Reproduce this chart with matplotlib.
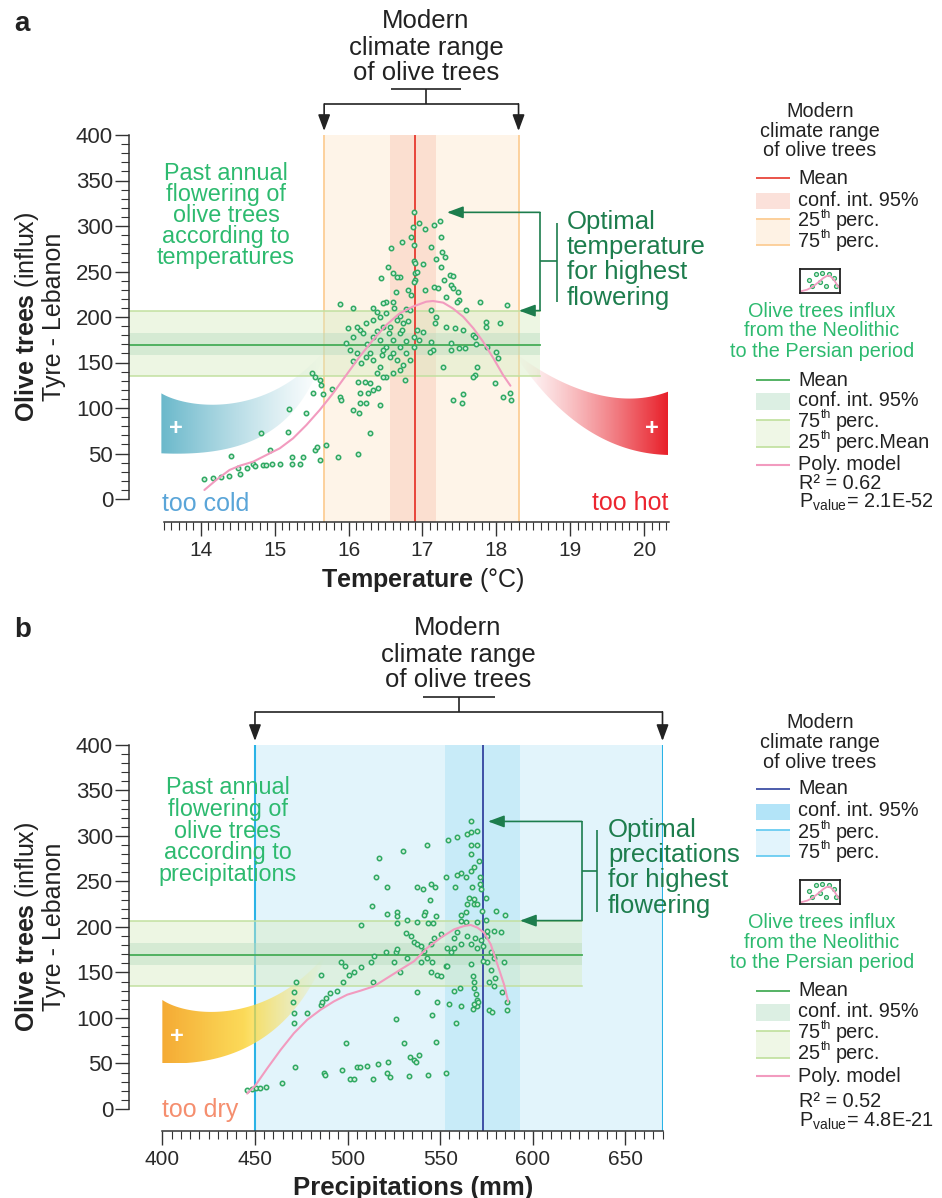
import numpy as np
import matplotlib
matplotlib.use("Agg")
import matplotlib.pyplot as plt
from matplotlib.path import Path
from matplotlib.patches import PathPatch, Rectangle, FancyArrowPatch
from matplotlib.lines import Line2D

plt.rcParams['font.family'] = ['Liberation Sans', 'DejaVu Sans']
plt.rcParams['mathtext.fontset'] = 'custom'
plt.rcParams['mathtext.rm'] = 'Liberation Sans'
plt.rcParams['mathtext.it'] = 'Liberation Sans:italic'
plt.rcParams['mathtext.bf'] = 'Liberation Sans:bold'

# ---------------- data: panel a (temperature) ----------------
temp_x = [14.05, 14.16, 14.27, 14.38, 14.41, 14.51, 14.53, 14.62, 14.71, 14.73, 14.84, 14.89, 14.96, 15.07, 14.94,
          14.81, 15.23, 15.23, 15.34, 15.38, 15.54, 15.57, 15.61, 15.70, 15.86, 16.13, 15.18, 15.20, 15.42, 16.29,
          15.51, 15.54, 15.61, 15.63, 15.66, 15.52, 15.77, 15.88, 15.90, 15.89, 15.99, 16.06, 16.14, 16.15, 16.24,
          16.42, 16.06, 16.13, 16.22, 16.29, 16.33, 16.40, 16.15, 16.26,
          16.88, 16.95, 17.04, 17.15, 17.24, 16.87, 16.84, 16.72, 16.88, 16.58, 17.11, 17.25, 17.18, 17.26, 17.30,
          16.88, 16.90, 17.01, 16.53, 16.60, 16.69, 16.65, 16.90, 16.93, 17.25, 16.44, 17.37, 17.41, 17.29, 16.90,
          16.88, 17.15, 17.21, 17.39, 17.41, 17.04, 16.64, 16.81, 16.85, 17.32, 17.48, 17.50, 17.47, 17.78, 18.14,
          16.51, 16.47, 16.60, 16.78, 16.83, 17.12, 17.59, 17.86, 18.05, 17.86, 17.19, 17.17, 17.32, 17.44, 17.55,
          17.68, 17.71, 17.01, 17.12, 17.14, 17.10, 17.39, 17.39, 17.50, 17.57, 17.73, 17.87, 18.00, 18.02, 17.74,
          17.71, 17.69, 17.28, 17.98, 18.09, 18.18, 18.20, 17.41, 17.55, 17.54,
          16.88, 16.88, 16.69, 16.78, 16.60, 16.65, 16.74, 16.69, 16.76, 16.60, 16.51, 16.42, 16.33, 16.29, 16.24,
          16.11, 16.02, 15.97, 16.06, 16.15, 16.24, 16.33, 16.42, 16.51, 16.11, 16.20, 16.33, 16.42, 16.51, 16.60,
          16.69, 16.78, 16.83, 16.47, 16.56, 16.65, 16.74, 16.33, 16.38, 16.47, 16.56, 16.17, 16.06, 16.38, 16.47,
          16.55, 16.72, 16.38, 16.80, 16.62, 16.25, 16.45, 16.70, 16.92, 16.95]
temp_influx = [22, 23, 24, 25, 47, 34, 28, 34, 39, 36, 37, 37, 39, 39, 54,
               73, 46, 39, 39, 46, 54, 57, 43, 59, 46, 50, 74, 99, 94, 73,
               139, 134, 131, 125, 115, 117, 121, 112, 109, 214, 188, 210, 95, 105, 105,
               103, 98, 129, 129, 127, 120, 122, 116, 116,
               315, 303, 297, 301, 305, 299, 288, 282, 279, 276, 277, 288, 264, 271, 266,
               261, 259, 258, 255, 248, 244, 244, 248, 250, 255, 243, 246, 245, 241, 241,
               239, 233, 232, 235, 232, 230, 228, 230, 224, 222, 228, 219, 216, 217, 213,
               217, 215, 216, 209, 208, 208, 208, 195, 193, 189, 200, 193, 189, 188, 186,
               180, 178, 183, 172, 164, 162, 171, 164, 166, 166, 170, 167, 162, 155, 145,
               136, 134, 145, 127, 112, 117, 109, 109, 115, 106,
               167, 178, 182, 174, 160, 153, 147, 142, 131, 138, 134, 145, 153, 160, 156,
               160, 164, 171, 178, 186, 193, 197, 200, 204, 189, 182, 178, 175, 167, 175,
               167, 160, 153, 189, 189, 197, 193, 210, 205, 164, 156, 149, 152, 138, 134,
               182, 186, 185, 196, 210, 170, 158, 201, 186, 175]
temp_model_x = [14.05, 14.21, 14.39, 14.53, 14.71, 14.89, 15.07, 15.25, 15.43, 15.61, 15.79, 15.97, 16.15, 16.33,
                16.51, 16.69, 16.87, 17.05, 17.14, 17.28, 17.41, 17.55, 17.69, 17.82, 17.96, 18.09, 18.19]
temp_model_y = [9.9, 20.9, 31.9, 36.6, 41.0, 48.4, 55.7, 66.7, 81.3, 97.8, 116.1, 136.3, 156.4, 174.7,
                191.2, 204.0, 211.4, 216.8, 217.6, 215.8, 209.5, 200.4, 187.5, 172.9, 154.6, 136.3, 124.5]
temp_p25, temp_p75 = 15.67, 18.30
temp_ci_low, temp_ci_high = 16.56, 17.19
temp_mean = 16.90
temp_ticks = [14, 15, 16, 17, 18, 19, 20]
temp_r2 = 'R² = 0.62'
temp_p = 'P$_{\\rm value}$= 2.1E-52'

# ---------------- data: panel b (precipitation) ----------------
prec_x = [445.8, 448.5, 450.3, 452.6, 456.2, 464.7, 471.4, 487.2, 487.7, 496.8, 498.9, 501.3, 503.4, 505.2, 506.7,
          510.6, 513.7, 516.4, 521.4, 521.8, 522.9, 530.5, 533.3, 533.7, 535.9, 536.9, 538.7, 543.4, 547.7, 553.2,
          525.9, 545.6, 558.6, 548.1, 554.8, 561.1, 537.3, 557.5, 560.7, 567.7, 570.1, 576.4, 578.2, 586.3, 586.3,
          583.2,
          471.0, 471.0, 470.6, 471.0, 472.3, 478.2, 485.6, 486.3, 488.1, 490.3, 494.4, 497.5, 485.6, 496.2, 498.4,
          500.7, 503.4, 507.0, 512.4, 514.2, 520.5, 525.9, 526.8, 532.3, 528.1, 513.9, 507.0,
          566.8, 564.7, 566.5, 569.7, 559.3, 554.2, 543.1, 529.9, 516.9, 566.8, 570.1, 566.8, 571.0, 568.3, 566.5,
          561.1, 559.3, 563.8, 571.5, 553.0, 515.1, 521.1, 537.7, 540.9, 545.2, 547.0, 558.2, 571.5, 571.9, 567.4,
          565.6, 568.3, 574.6, 568.3, 570.1, 572.8, 563.8, 564.7, 544.5, 541.6, 541.3, 513.0, 521.4, 526.8, 526.5,
          526.8, 532.3, 537.7, 547.6, 543.4, 546.3, 580.0, 585.0, 561.4, 561.1, 563.8, 570.1, 574.6, 575.1, 579.1,
          582.7, 564.7, 568.8, 571.9, 575.5, 559.3, 557.5, 561.1, 566.5, 570.1, 573.3, 577.3, 579.1, 584.5, 575.5,
          573.3, 566.5, 577.3, 579.6, 579.1, 576.4, 567.9, 568.3, 568.3, 569.2, 570.1, 568.3, 570.6, 531.4, 534.1,
          535.9, 537.7, 539.5, 541.3, 544.9, 546.7, 550.3, 553.9, 555.7, 557.5, 543.1, 545.8, 539.5, 544.9, 548.5,
          550.3, 553.0, 553.9, 525.0]
prec_influx = [21, 22, 23, 23, 24, 28, 46, 39, 37, 43, 72, 33, 33, 46, 46,
               47, 33, 49, 39, 52, 35, 73, 36, 57, 54, 52, 59, 37, 74, 39,
               99, 103, 94, 118, 115, 113, 129, 130, 133, 110, 113, 109, 107, 118, 109,
               128,
               94, 106, 118, 129, 140, 105, 114, 118, 122, 127, 130, 140, 147, 161, 157,
               147, 150, 156, 162, 168, 172, 173, 176, 166, 151, 139, 202,
               316, 302, 304, 306, 299, 296, 290, 283, 276, 290, 290, 280, 273, 266, 262,
               259, 257, 255, 255, 255, 255, 244, 244, 242, 247, 244, 244, 247, 242, 244,
               232, 231, 232, 225, 225, 218, 216, 225, 230, 217, 213, 223, 214, 217, 212,
               204, 208, 205, 212, 204, 204, 218, 213, 213, 207, 205, 205, 208, 196, 196,
               194, 190, 188, 186, 190, 194, 188, 181, 181, 177, 179, 173, 166, 162, 162,
               163, 159, 153, 144, 135, 139, 146, 140, 133, 126, 120, 115, 118, 193, 190,
               184, 181, 179, 174, 181, 188, 192, 177, 173, 177, 166, 162, 162, 151, 147,
               146, 157, 157, 161]
prec_model_x = [445.8, 450.3, 456.6, 463.8, 471.0, 478.2, 485.4, 492.6, 499.8, 507.0, 514.2, 521.4, 528.6,
                535.9, 543.1, 550.3, 557.5, 562.9, 566.5, 570.1, 573.7, 577.3, 580.9, 584.5, 586.7]
prec_model_y = [16.9, 26.2, 44.6, 64.8, 83.2, 98.0, 109.0, 118.2, 125.6, 130.0, 134.8, 144.0, 153.2,
                162.4, 177.2, 188.2, 197.4, 201.1, 202.2, 199.3, 193.7, 180.8, 158.7, 136.6, 118.2]
prec_p25, prec_p75 = 450, 670
prec_ci_low, prec_ci_high = 552.5, 593
prec_mean = 573
prec_ticks = [400, 450, 500, 550, 600, 650]
prec_r2 = 'R² = 0.52'
prec_p = 'P$_{\\rm value}$= 4.8E-21'

# olive influx (Neolithic to Persian) statistics
influx_mean = 169
influx_ci_low, influx_ci_high = 158, 182
influx_p25, influx_p75 = 135, 207
influx_ticks = [0, 50, 100, 150, 200, 250, 300, 350, 400]

# legend icon
icon_x = [0.22, 0.40, 0.55, 0.72, 0.30, 0.50, 0.64, 0.84, 0.90]
icon_y = [0.55, 0.80, 0.82, 0.80, 0.30, 0.45, 0.30, 0.62, 0.28]
icon_cx = [0.04, 0.18, 0.32, 0.46, 0.58, 0.68, 0.76, 0.86, 0.96]
icon_cy = [0.08, 0.14, 0.26, 0.45, 0.62, 0.72, 0.70, 0.52, 0.25]

# ---------------- figure helpers ----------------
W, H = 942, 1198
fig = plt.figure(figsize=(W / 100, H / 100), dpi=100)
fig.patch.set_facecolor('white')
REN = fig.canvas.get_renderer()


def X(x):
    return x / W


def Y(y):
    return 1 - y / H


def ftext(x, y, s, **kw):
    kw.setdefault('ha', 'center')
    kw.setdefault('va', 'center')
    return fig.text(X(x), Y(y), s, **kw)


def sup_text(x, y, base, sup, rest, size, color):
    t1 = ftext(x, y, base, fontsize=size, color=color, ha='left')
    w1 = t1.get_window_extent(REN).width
    t2 = ftext(x + w1 + 0.5, y - size * 0.42, sup, fontsize=size * 0.62, color=color, ha='left')
    w2 = t2.get_window_extent(REN).width
    ftext(x + w1 + 0.5 + w2 + size * 0.36, y, rest, fontsize=size, color=color, ha='left')


def fline(xs, ys, color, lw=1.2, z=5):
    fig.add_artist(Line2D([X(v) for v in xs], [Y(v) for v in ys], color=color, lw=lw,
                          transform=fig.transFigure, zorder=z, solid_capstyle='butt'))


def frect(x0, y0, x1, y1, color):
    fig.add_artist(Rectangle((X(x0), Y(y1)), (x1 - x0) / W, (y1 - y0) / H, facecolor=color,
                             edgecolor='none', transform=fig.transFigure, zorder=4))


def farrow(x0, y0, x1, y1, color, lw=1.2):
    fig.add_artist(FancyArrowPatch((X(x0), Y(y0)), (X(x1), Y(y1)), transform=fig.transFigure,
                                   arrowstyle='-|>,head_length=0.7,head_width=0.26', mutation_scale=14,
                                   color=color, lw=lw, shrinkA=0, shrinkB=0, zorder=6))


def to_px(ax, x, y):
    dx, dy = ax.transData.transform((x, y))
    return dx, H - dy


def make_axes(top, bottom, left, right, xlim, ylim, xbound, xmajor, xminor):
    ax = fig.add_axes([X(left), Y(bottom), (right - left) / W, (bottom - top) / H])
    ax.set_xlim(*xlim)
    ax.set_ylim(*ylim)
    ax.patch.set_visible(False)
    for s in ('top', 'right'):
        ax.spines[s].set_visible(False)
    for s in ('left', 'bottom'):
        ax.spines[s].set_color('#333333')
        ax.spines[s].set_linewidth(1.1)
    ax.spines['left'].set_bounds(0, 400)
    ax.spines['bottom'].set_bounds(*xbound)
    ax.set_yticks(influx_ticks)
    ax.set_yticks(np.arange(0, 401, 10), minor=True)
    ax.set_xticks(xmajor)
    ax.set_xticks(xminor, minor=True)
    ax.tick_params(which='major', direction='out', length=10, width=1.0, color='#333333',
                   labelcolor='#2a2a2a')
    ax.tick_params(which='minor', direction='out', length=6, width=0.8, color='#333333')
    ax.tick_params(axis='x', pad=4, labelsize=15)
    ax.tick_params(axis='y', pad=1.5, labelsize=16)
    return ax


def bez(p0, c1, c2, p3, n=60):
    t = np.linspace(0, 1, n)[:, None]
    p0, c1, c2, p3 = map(np.array, (p0, c1, c2, p3))
    return (1 - t) ** 3 * p0 + 3 * (1 - t) ** 2 * t * c1 + 3 * (1 - t) * t ** 2 * c2 + t ** 3 * p3


def horn(ax, top, bottom, rgba_fn, z=0.9):
    tp = bez(*top)
    bt = bez(*bottom)
    verts = np.vstack([tp, bt[::-1], tp[:1]])
    codes = [Path.MOVETO] + [Path.LINETO] * (len(verts) - 2) + [Path.CLOSEPOLY]
    patch = PathPatch(Path(verts, codes), facecolor='none', edgecolor='none')
    ax.add_patch(patch)
    x0, x1 = verts[:, 0].min(), verts[:, 0].max()
    y0, y1 = verts[:, 1].min(), verts[:, 1].max()
    s = np.linspace(0, 1, 400)
    img = np.repeat(rgba_fn(s)[None, :, :], 2, axis=0)
    im = ax.imshow(img, extent=(x0, x1, y0, y1), origin='lower', aspect='auto',
                   interpolation='bilinear', zorder=z)
    im.set_clip_path(patch)


def cold_rgba(s):
    a = 0.82 * (1 - s) ** 1.2
    return np.stack([np.full_like(s, 0.29), np.full_like(s, 0.66), np.full_like(s, 0.75), a], axis=1)


def hot_rgba(s):
    a = s ** 1.3
    return np.stack([np.full_like(s, 0.91), np.full_like(s, 0.12), np.full_like(s, 0.16), a], axis=1)


def dry_rgba(s):
    r = np.interp(s, [0, 0.55, 1], [0.96, 0.99, 0.99])
    g = np.interp(s, [0, 0.55, 1], [0.65, 0.85, 0.88])
    b = np.interp(s, [0, 0.55, 1], [0.16, 0.24, 0.30])
    a = np.interp(s, [0, 0.5, 1], [0.95, 0.85, 0.0])
    return np.stack([r, g, b, a], axis=1)


def draw_panel(ax, p25, p75, cil, cih, mean, band_c, ci_c, edge_c, edge_lw, mean_c, gx1, xs, ys, mx, my):
    ax.axvspan(p25, p75, color=band_c, lw=0, zorder=0.5)
    ax.axvspan(cil, cih, color=ci_c, lw=0, zorder=0.6)
    for v in (p25, p75):
        ax.axvline(v, color=edge_c, lw=edge_lw, zorder=0.7)
    gx0 = ax.get_xlim()[0]
    ax.fill_between([gx0, gx1], influx_p25, influx_p75, color='#d8ecc2', alpha=0.45, lw=0, zorder=1)
    ax.fill_between([gx0, gx1], influx_ci_low, influx_ci_high, color='#b3d9bd', alpha=0.4, lw=0, zorder=1.1)
    for v in (influx_p25, influx_p75):
        ax.plot([gx0, gx1], [v, v], color='#c2e0a0', lw=1.1, zorder=1.2)
    ax.plot([gx0, gx1], [influx_mean, influx_mean], color='#46ad58', lw=1.3, zorder=2.2)
    ax.axvline(mean, color=mean_c, lw=1.4, zorder=2.1)
    ax.scatter(xs, ys, s=10, marker='o', facecolor='#d6f0df', edgecolor='#2fa862', linewidths=1.1, zorder=3)
    ax.plot(mx, my, color='#f29bbf', lw=1.5, zorder=4, solid_capstyle='round')


# ---------------- panel a ----------------
axa = make_axes(135, 521.75, 129, 668.6, (13.03, 20.33), (-25, 400), (13.5, 20.33), temp_ticks,
                np.arange(13.5, 20.31, 0.1))
draw_panel(axa, temp_p25, temp_p75, temp_ci_low, temp_ci_high, temp_mean,
           '#fef4e8', '#fbdfd0', '#fcca8e', 1.2, '#e8453a', 18.59,
           temp_x, temp_influx, temp_model_x, temp_model_y)
horn(axa, ((13.468, 116.1), (13.806, 99.6), (14.889, 86.8), (15.678, 163.7)),
     ((13.468, 50.2), (14.528, 46.5), (15.340, 68.5), (15.678, 163.7)), cold_rgba)
horn(axa, ((18.227, 161.9), (18.903, 119.8), (19.669, 97.8), (20.322, 117.9)),
     ((18.227, 161.9), (18.678, 105.1), (19.354, 50.2), (20.322, 48.4)), hot_rgba)
axa.text(13.66, 78, '+', color='white', fontsize=17, fontweight='bold', ha='center', va='center', zorder=1.6)
axa.text(20.10, 78, '+', color='white', fontsize=17, fontweight='bold', ha='center', va='center', zorder=1.6)
axa.set_xlim(13.03, 20.33)
axa.set_ylim(-25, 400)

# ---------------- panel b ----------------
axb = make_axes(745, 1130.8, 129, 662.5, (382, 670), (-24, 400), (400, 670), prec_ticks,
                np.arange(400, 671, 5))
draw_panel(axb, prec_p25, prec_p75, prec_ci_low, prec_ci_high, prec_mean,
           '#e2f4fb', '#c8ebf8', '#2ab3e6', 1.5, '#3e4fa5', 626.4,
           prec_x, prec_influx, prec_model_x, prec_model_y)
horn(axb, ((400, 119.8), (413.1, 101.4), (456.3, 90.4), (488.7, 171.1)),
     ((400, 50.2), (441.9, 46.5), (472.5, 86.8), (488.7, 171.1)), dry_rgba)
axb.text(408, 79.5, '+', color='white', fontsize=17, fontweight='bold', ha='center', va='center', zorder=1.6)
axb.set_xlim(382, 670)
axb.set_ylim(-24, 400)

# ---------------- texts & annotations, panel a ----------------
DARK = '#222222'
GREEN = '#2dba6f'
DGREEN = '#1d7d4d'
HEAD = 18.5
GTXT = 16.8
OPT = 18.5
SIDE = 18

ftext(14, 24, 'a', fontsize=20, fontweight='bold', ha='left', color=DARK)
for s, y in zip(['Modern', 'climate range', 'of olive trees'], [21, 47.5, 72.5]):
    ftext(426, y, s, fontsize=HEAD, color=DARK)
xa25, _ = to_px(axa, temp_p25, 400)
xa75, _ = to_px(axa, temp_p75, 400)
fline([391, 461], [89, 89], DARK)
fline([426, 426], [89, 104], DARK)
fline([xa25, xa75], [104, 104], DARK)
farrow(xa25, 104, xa25, 131, DARK)
farrow(xa75, 104, xa75, 131, DARK)

for s, y in zip(['Past annual', 'flowering of', 'olive trees', 'according to', 'temperatures'],
                [173, 194, 215.5, 236.5, 257.5]):
    ftext(226, y, s, fontsize=GTXT, color=GREEN)
for s, y in zip(['Optimal', 'temperature', 'for highest', 'flowering'], [221.7, 246.7, 271.7, 297.5]):
    ftext(567, y, s, fontsize=OPT, color=DGREEN, ha='left')
_, ya_top = to_px(axa, temp_mean, max(temp_influx))
_, ya_bot = to_px(axa, temp_mean, influx_p75)
fline([540, 540], [ya_top, ya_bot], DGREEN)
farrow(540, ya_top, 447, ya_top, DGREEN)
farrow(540, ya_bot, 519, ya_bot, DGREEN)
fline([540, 557], [(ya_top + ya_bot) / 2] * 2, DGREEN)
fline([557, 557], [222.7, 301.7], DGREEN)

ftext(162, 504, 'too cold', fontsize=SIDE, color='#5aa5d8', ha='left')
ftext(668, 503, 'too hot', fontsize=SIDE, color='#ec2630', ha='right')
ftext(423, 580, '$\\mathbf{Temperature}$ (°C)', fontsize=18, color=DARK)
ftext(27, 317, '$\\mathbf{Olive\\ trees}$ (influx)', fontsize=18, color=DARK, rotation=90)
ftext(54, 317, 'Tyre - Lebanon', fontsize=18, color=DARK, rotation=90)

# ---------------- texts & annotations, panel b ----------------
ftext(14, 630, 'b', fontsize=20, fontweight='bold', ha='left', color=DARK)
for s, y in zip(['Modern', 'climate range', 'of olive trees'], [628, 655, 680]):
    ftext(458, y, s, fontsize=HEAD, color=DARK)
xb25, _ = to_px(axb, prec_p25, 400)
xb75, _ = to_px(axb, prec_p75, 400)
fline([423, 495], [697, 697], DARK)
fline([459, 459], [697, 712], DARK)
fline([xb25, xb75], [712, 712], DARK)
farrow(xb25, 712, xb25, 741, DARK)
farrow(xb75, 712, xb75, 741, DARK)

for s, y in zip(['Past annual', 'flowering of', 'olive trees', 'according to', 'precipitations'],
                [788, 809.5, 831, 852.5, 874]):
    ftext(227.5, y, s, fontsize=GTXT, color=GREEN)
for s, y in zip(['Optimal', 'precitations', 'for highest', 'flowering'], [830, 855, 880, 906]):
    ftext(608, y, s, fontsize=OPT, color=DGREEN, ha='left')
_, yb_top = to_px(axb, prec_mean, max(prec_influx))
_, yb_bot = to_px(axb, prec_mean, influx_p75)
fline([581.7, 581.7], [yb_top, yb_bot], DGREEN)
farrow(581.7, yb_top, 488, yb_top, DGREEN)
farrow(581.7, yb_bot, 520, yb_bot, DGREEN)
fline([581.7, 596.7], [(yb_top + yb_bot) / 2] * 2, DGREEN)
fline([596.7, 596.7], [830, 911.7], DGREEN)

ftext(162, 1110, 'too dry', fontsize=SIDE, color='#f58e6e', ha='left')
ftext(413, 1188, 'Precipitations (mm)', fontsize=18.5, fontweight='bold', color=DARK)
ftext(27, 927, '$\\mathbf{Olive\\ trees}$ (influx)', fontsize=18, color=DARK, rotation=90)
ftext(54, 927, 'Tyre - Lebanon', fontsize=18, color=DARK, rotation=90)


# ---------------- legends ----------------
def legend(off, mean_c, ci_c, edge_c, fill_c, green_rows, r2, pval, r2y, py):
    LS = 14.3
    for s, y in zip(['Modern', 'climate range', 'of olive trees'], [111.5, 131.5, 151]):
        ftext(820, y + off, s, fontsize=LS, color=DARK)
    fline([756, 790], [178 + off] * 2, mean_c, 1.3)
    frect(756, 193 + off, 790, 209 + off, ci_c)
    frect(756, 218.5 + off, 790, 245 + off, fill_c)
    fline([756, 790], [218.5 + off] * 2, edge_c, 1.2)
    fline([756, 790], [245 + off] * 2, edge_c, 1.2)
    ftext(798, 178 + off, 'Mean', fontsize=LS, color=DARK, ha='left')
    ftext(798, 200 + off, 'conf. int. 95%', fontsize=LS, color=DARK, ha='left')
    sup_text(798, 221 + off, '25', 'th', 'perc.', LS, DARK)
    sup_text(798, 241.5 + off, '75', 'th', 'perc.', LS, DARK)
    iax = fig.add_axes([X(800), Y(293 + off), 40 / W, 24 / H])
    iax.set_xlim(0, 1)
    iax.set_ylim(0, 1)
    iax.set_xticks([])
    iax.set_yticks([])
    for sp in iax.spines.values():
        sp.set_linewidth(1.3)
        sp.set_color(DARK)
    iax.plot(icon_cx, icon_cy, color='#f29bbf', lw=1.3)
    iax.scatter(icon_x, icon_y, s=8, facecolor='#d6f0df', edgecolor='#2fa862', linewidths=0.9)
    for s, y in zip(['Olive trees influx', 'from the Neolithic', 'to the Persian period'],
                    [311.5, 331, 351.5]):
        ftext(822, y + off, s, fontsize=LS, color=GREEN)
    fline([756, 790], [380 + off] * 2, '#46ad58', 1.3)
    frect(756, 393 + off, 790, 410 + off, '#dcefe3')
    frect(756, 420 + off, 790, 446.5 + off, '#eff7e6')
    fline([756, 790], [420 + off] * 2, '#bfe09c', 1.2)
    fline([756, 790], [446.5 + off] * 2, '#bfe09c', 1.2)
    fline([756, 790], [465 + off] * 2, '#f29bbf', 1.5)
    ftext(798, 380 + off, 'Mean', fontsize=LS, color=DARK, ha='left')
    ftext(798, 400.5 + off, 'conf. int. 95%', fontsize=LS, color=DARK, ha='left')
    sup_text(798, 421.5 + off, green_rows[0][0], 'th', green_rows[0][1], LS, DARK)
    sup_text(798, 442.5 + off, green_rows[1][0], 'th', green_rows[1][1], LS, DARK)
    ftext(798, 465 + off, 'Poly. model', fontsize=LS, color=DARK, ha='left')
    ftext(799, r2y, r2, fontsize=LS, color=DARK, ha='left')
    ftext(799, py, pval, fontsize=LS, color=DARK, ha='left')


legend(0, '#e8453a', '#fbe1da', '#fcca8e', '#fef2e4',
       [('75', 'perc.'), ('25', 'perc.Mean')], temp_r2, temp_p, 483.5, 502)
legend(611, '#3e4fa5', '#b3e4f8', '#5ec8f0', '#e2f4fc',
       [('75', 'perc.'), ('25', 'perc.')], prec_r2, prec_p, 1101.5, 1121.5)

fig.savefig('out.png', dpi=100)
